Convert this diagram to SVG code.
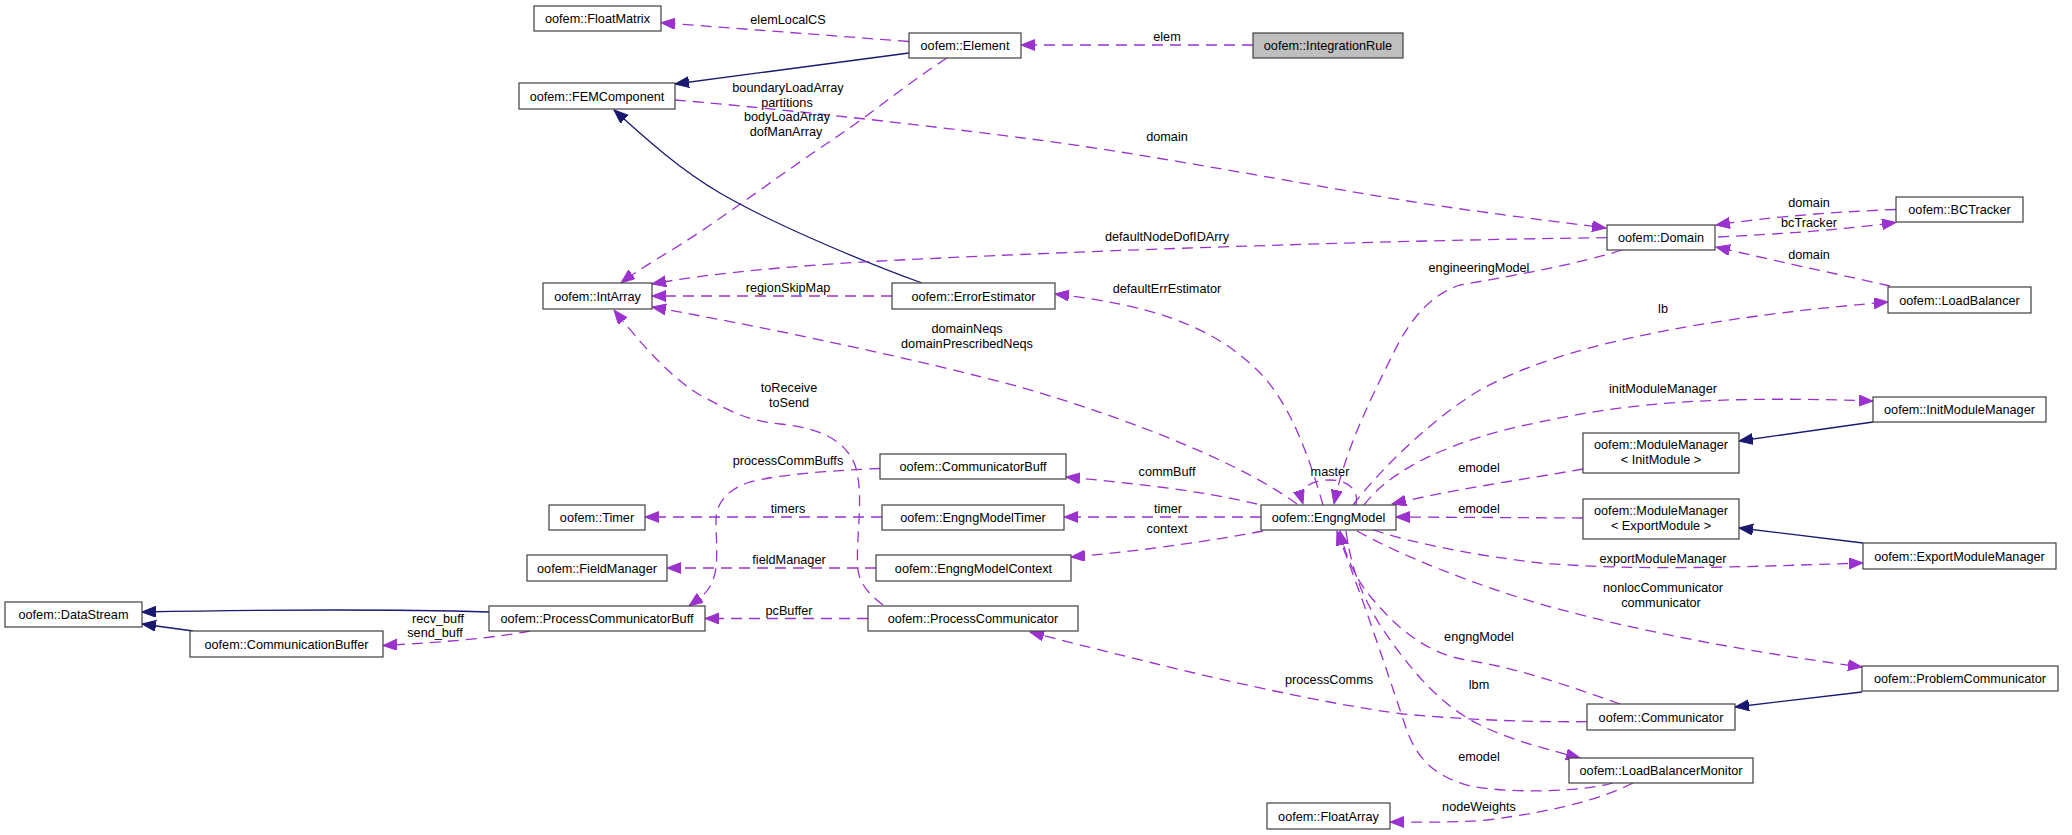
<svg xmlns="http://www.w3.org/2000/svg" width="2072" height="835" viewBox="0 0 2072 835">
<style>
.n rect{fill:#ffffff;stroke:#404040;stroke-width:1.2}
.n.f rect{fill:#bfbfbf}
text{font-family:"Liberation Sans",Arial,sans-serif;font-size:12.7px;fill:#000;text-anchor:middle}
.u{fill:none;stroke:#9a32cd;stroke-width:1.3;stroke-dasharray:11,7;marker-end:url(#ap)}
.i{fill:none;stroke:#191970;stroke-width:1.3;marker-end:url(#an)}
</style>
<defs>
<marker id="ap" markerUnits="userSpaceOnUse" markerWidth="15" markerHeight="12" refX="14" refY="5.5" orient="auto"><path d="M0,0 L14,5.5 L0,11 z" fill="#9a32cd" stroke="#9a32cd" stroke-width="1"/></marker>
<marker id="an" markerUnits="userSpaceOnUse" markerWidth="15" markerHeight="12" refX="14" refY="5.5" orient="auto"><path d="M0,0 L14,5.5 L0,11 z" fill="#191970" stroke="#191970" stroke-width="1"/></marker>
</defs>
<rect width="2072" height="835" fill="#ffffff"/>
<g id="edges">
<path class="u" d="M909,41.5 L661,22.7"/>
<path class="u" d="M1253,45 L1021,45"/>
<path class="i" d="M909,53 L675,84"/>
<path class="u" d="M947,58 C905,85 870,115 835,138 C790,168 740,205 700,232 C670,252 640,268 621,283"/>
<path class="u" d="M675,100 C750,106 900,122 1023,138 C1150,154 1300,184 1420,203 C1500,215 1560,222 1606,228"/>
<path class="i" d="M922,283 C880,268 780,228 720,193 C680,170 645,138 614,110"/>
<path class="u" d="M1607,237.7 C1400,240 1100,250 900,260 C780,266 700,275 652,284"/>
<path class="u" d="M892,296 L652,296"/>
<path class="u" d="M1297,504 C1230,455 1100,410 1020,387 C920,360 780,330 652,307"/>
<path class="u" d="M883,605 C870,595 860,585 858,570 C855,540 865,495 855,465 C845,440 820,428 780,424 C745,421 725,408 700,395 C675,380 650,355 614,310"/>
<path class="u" d="M880,468.5 C840,470 780,474 750,482 C725,490 716,505 716,520 C716,540 719,565 713,580 C709,592 700,598 689,606"/>
<path class="u" d="M882,517 L645,517"/>
<path class="u" d="M876,568 L667,568"/>
<path class="u" d="M868,618.5 L705,618.5"/>
<path class="i" d="M489,612 C420,610 300,609 142,612"/>
<path class="i" d="M193,631 L142,624"/>
<path class="u" d="M530,631 C500,637 450,642 383,645.5"/>
<path class="u" d="M1896,209.5 C1830,212 1770,217 1716,225"/>
<path class="u" d="M1718,237 C1780,234 1840,230 1896,222.5"/>
<path class="u" d="M1890,286 C1860,279 1780,262 1716,247"/>
<path class="u" d="M1622,250 C1580,264 1500,278 1460,285 C1430,295 1410,320 1395,350 C1370,400 1345,450 1334,504"/>
<path class="u" d="M1323,505 C1310,460 1290,400 1255,368 C1210,325 1150,305 1055,294"/>
<path class="u" d="M1356,505 C1360,488 1345,480 1330,480 C1310,480 1298,488 1303,504"/>
<path class="u" d="M1257,504 C1200,490 1120,482 1066,477"/>
<path class="u" d="M1261,517 L1064,517"/>
<path class="u" d="M1263,531 C1200,543 1130,552 1071,557"/>
<path class="u" d="M1353,505 C1380,470 1430,420 1480,390 C1560,345 1700,318 1888,302"/>
<path class="u" d="M1364,505 C1390,470 1450,440 1540,422 C1620,405 1700,395 1873,401"/>
<path class="i" d="M1873,422 L1739,441"/>
<path class="u" d="M1583,469 C1520,480 1450,490 1392,504"/>
<path class="u" d="M1583,518 L1396,517"/>
<path class="i" d="M1863,543 L1739,528"/>
<path class="u" d="M1373,530 C1420,545 1480,556 1540,563 C1640,571 1740,567 1863,563"/>
<path class="u" d="M1357,531 C1400,555 1470,583 1540,604 C1640,632 1750,652 1862,667"/>
<path class="i" d="M1862,692 L1735,707"/>
<path class="u" d="M1620,704 C1580,690 1520,668 1466,660 C1420,652 1390,620 1370,596 C1355,578 1345,555 1340,531"/>
<path class="u" d="M1587,721.7 C1540,722 1480,721 1403,714 C1330,705 1200,675 1153,663 C1100,650 1060,640 1030,632"/>
<path class="u" d="M1346,531 C1350,560 1358,590 1380,625 C1410,670 1440,705 1480,725 C1510,740 1550,750 1580,758"/>
<path class="u" d="M1613,783 C1590,790 1520,795 1470,786 C1430,775 1415,755 1405,725 C1390,680 1370,620 1355,580 C1348,560 1342,545 1337,531"/>
<path class="u" d="M1633,783 C1600,800 1550,812 1487,820 C1450,823 1420,822 1390,822"/>
</g>
<g id="edge-labels">
<text x="788" y="24">elemLocalCS</text>
<text x="1167" y="41">elem</text>
<text x="788" y="92">boundaryLoadArray</text>
<text x="787" y="106.5">partitions</text>
<text x="787" y="121">bodyLoadArray</text>
<text x="786" y="135.5">dofManArray</text>
<text x="1167" y="141">domain</text>
<text x="1809" y="206.5">domain</text>
<text x="1809" y="226.5">bcTracker</text>
<text x="1809" y="259">domain</text>
<text x="1167" y="241">defaultNodeDofIDArry</text>
<text x="1479" y="272">engineeringModel</text>
<text x="788" y="292">regionSkipMap</text>
<text x="1167" y="293">defaultErrEstimator</text>
<text x="1663" y="312.5">lb</text>
<text x="967" y="333">domainNeqs</text>
<text x="967" y="347.5">domainPrescribedNeqs</text>
<text x="789" y="391.5">toReceive</text>
<text x="789" y="406.5">toSend</text>
<text x="1663" y="392.5">initModuleManager</text>
<text x="788" y="465">processCommBuffs</text>
<text x="1479" y="472">emodel</text>
<text x="1167" y="475.5">commBuff</text>
<text x="1330" y="476">master</text>
<text x="788" y="513">timers</text>
<text x="1168" y="513">timer</text>
<text x="1479" y="513">emodel</text>
<text x="1167" y="533">context</text>
<text x="1663" y="563">exportModuleManager</text>
<text x="789" y="563.5">fieldManager</text>
<text x="1663" y="592">nonlocCommunicator</text>
<text x="1661" y="606.5">communicator</text>
<text x="789" y="614.5">pcBuffer</text>
<text x="438" y="623">recv_buff</text>
<text x="435" y="636.5">send_buff</text>
<text x="1479" y="641">engngModel</text>
<text x="1329" y="684">processComms</text>
<text x="1479" y="688.5">lbm</text>
<text x="1479" y="761">emodel</text>
<text x="1479" y="811">nodeWeights</text>
</g>
<g id="n-FloatMatrix" class="n"><rect x="534" y="6" width="127" height="25"/><text x="597.5" y="23">oofem::FloatMatrix</text></g>
<g id="n-Element" class="n"><rect x="909" y="33" width="112" height="25"/><text x="965" y="50">oofem::Element</text></g>
<g id="n-IntegrationRule" class="n f"><rect x="1253" y="33" width="150" height="25"/><text x="1328" y="50">oofem::IntegrationRule</text></g>
<g id="n-FEMComponent" class="n"><rect x="519" y="83" width="156" height="26"/><text x="597" y="100.5">oofem::FEMComponent</text></g>
<g id="n-Domain" class="n"><rect x="1607" y="225" width="108" height="25"/><text x="1661" y="242">oofem::Domain</text></g>
<g id="n-BCTracker" class="n"><rect x="1896" y="197" width="127" height="25"/><text x="1959.5" y="214">oofem::BCTracker</text></g>
<g id="n-IntArray" class="n"><rect x="543" y="283" width="109" height="26"/><text x="597.5" y="300.5">oofem::IntArray</text></g>
<g id="n-ErrorEstimator" class="n"><rect x="892" y="283" width="163" height="26"/><text x="973.5" y="300.5">oofem::ErrorEstimator</text></g>
<g id="n-LoadBalancer" class="n"><rect x="1888" y="287" width="143" height="26"/><text x="1959.5" y="304.5">oofem::LoadBalancer</text></g>
<g id="n-InitModuleManager" class="n"><rect x="1873" y="397" width="173" height="25"/><text x="1959.5" y="414">oofem::InitModuleManager</text></g>
<g id="n-ModuleManagerInit" class="n"><rect x="1583" y="433" width="156" height="40"/><text x="1661" y="449">oofem::ModuleManager</text><text x="1661" y="464">&lt; InitModule &gt;</text></g>
<g id="n-CommunicatorBuff" class="n"><rect x="880" y="454" width="186" height="25"/><text x="973" y="471">oofem::CommunicatorBuff</text></g>
<g id="n-Timer" class="n"><rect x="549" y="505" width="96" height="25"/><text x="597" y="522">oofem::Timer</text></g>
<g id="n-EngngModelTimer" class="n"><rect x="882" y="505" width="182" height="25"/><text x="973" y="522">oofem::EngngModelTimer</text></g>
<g id="n-EngngModel" class="n"><rect x="1261" y="505" width="135" height="25"/><text x="1328.5" y="522">oofem::EngngModel</text></g>
<g id="n-ModuleManagerExport" class="n"><rect x="1583" y="499" width="156" height="40"/><text x="1661" y="514.5">oofem::ModuleManager</text><text x="1661" y="529.5">&lt; ExportModule &gt;</text></g>
<g id="n-ExportModuleManager" class="n"><rect x="1863" y="543" width="193" height="26"/><text x="1959.5" y="560.5">oofem::ExportModuleManager</text></g>
<g id="n-FieldManager" class="n"><rect x="527" y="555" width="140" height="26"/><text x="597" y="572.5">oofem::FieldManager</text></g>
<g id="n-EngngModelContext" class="n"><rect x="876" y="555" width="195" height="26"/><text x="973.5" y="572.5">oofem::EngngModelContext</text></g>
<g id="n-DataStream" class="n"><rect x="5" y="602" width="137" height="25"/><text x="73.5" y="619">oofem::DataStream</text></g>
<g id="n-ProcessCommunicatorBuff" class="n"><rect x="489" y="606" width="216" height="25"/><text x="597" y="623">oofem::ProcessCommunicatorBuff</text></g>
<g id="n-ProcessCommunicator" class="n"><rect x="868" y="606" width="210" height="25"/><text x="973" y="623">oofem::ProcessCommunicator</text></g>
<g id="n-CommunicationBuffer" class="n"><rect x="190" y="631" width="193" height="26"/><text x="286.5" y="648.5">oofem::CommunicationBuffer</text></g>
<g id="n-ProblemCommunicator" class="n"><rect x="1862" y="666" width="196" height="25"/><text x="1960" y="683">oofem::ProblemCommunicator</text></g>
<g id="n-Communicator" class="n"><rect x="1587" y="704" width="148" height="26"/><text x="1661" y="721.5">oofem::Communicator</text></g>
<g id="n-LoadBalancerMonitor" class="n"><rect x="1569" y="758" width="184" height="25"/><text x="1661" y="775">oofem::LoadBalancerMonitor</text></g>
<g id="n-FloatArray" class="n"><rect x="1267" y="803" width="123" height="26"/><text x="1328.5" y="820.5">oofem::FloatArray</text></g>
</svg>
